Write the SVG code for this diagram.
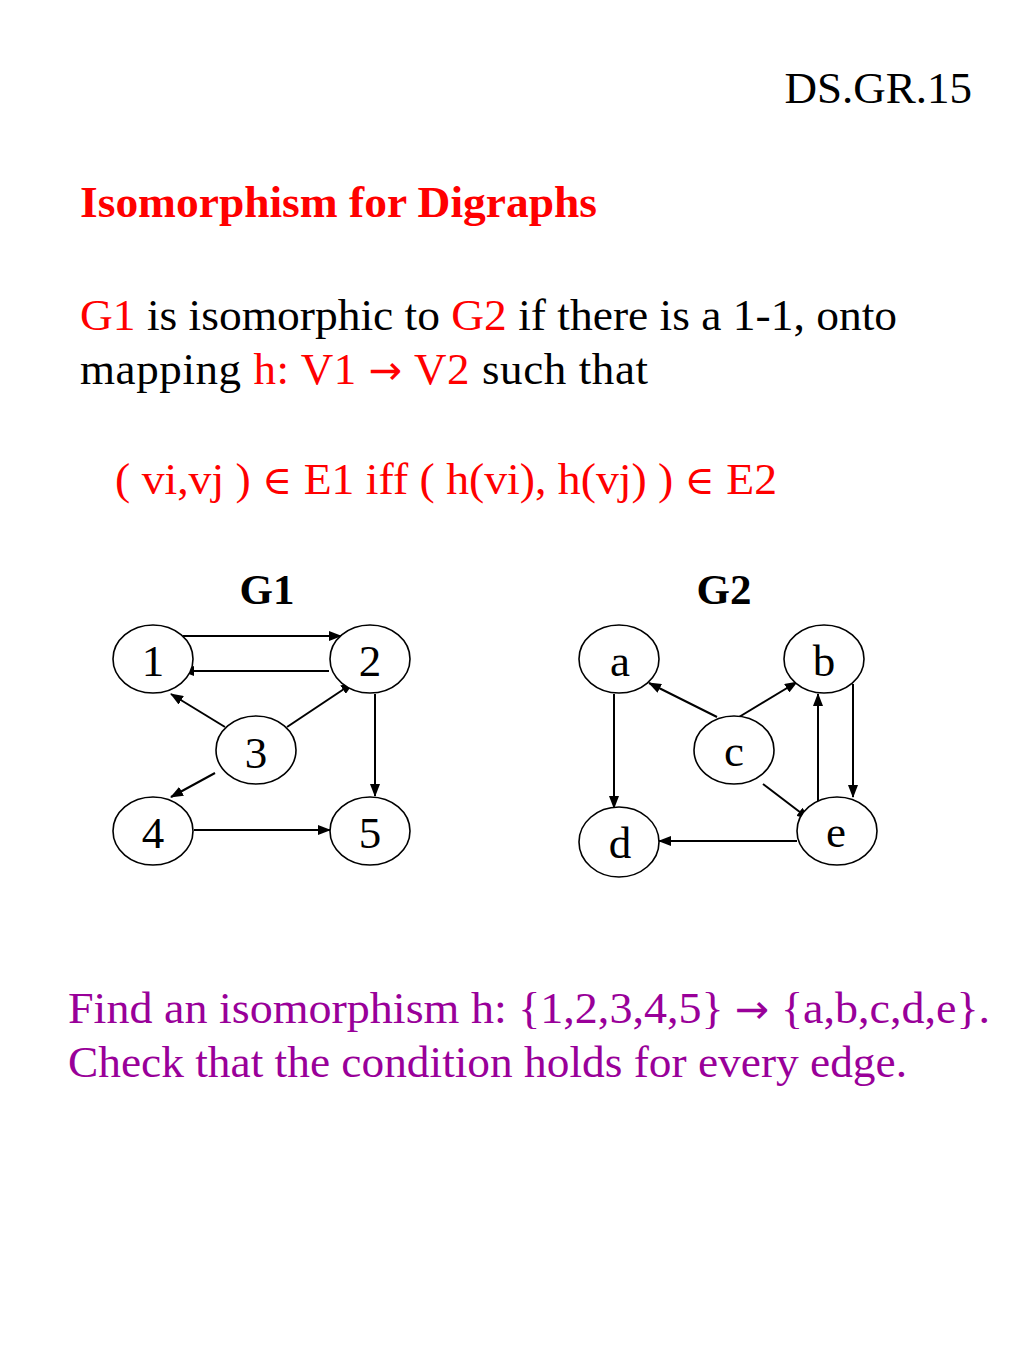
<svg xmlns="http://www.w3.org/2000/svg" width="1024" height="1365" viewBox="0 0 1024 1365">
<style>
text { font-family: "Liberation Serif", "Times New Roman", serif; font-size: 45px; fill: #000; }
.red { fill: #ff0000; }
.purple { fill: #990099; }
.bold { font-weight: bold; }
.sym { font-family: "DejaVu Serif", "DejaVu Sans", serif; font-size: 40px; }
.arrowch { font-family: "DejaVu Sans", sans-serif; font-size: 40px; }
.node ellipse { fill: #fff; stroke: #000; stroke-width: 1.6; }
.node text { text-anchor: middle; }
.edge { stroke: #000; stroke-width: 2; fill: none; marker-end: url(#arr); }
</style>
<defs>
<marker id="arr" markerUnits="userSpaceOnUse" markerWidth="13" markerHeight="10" refX="12" refY="5" orient="auto" viewBox="0 0 13 10">
<path d="M0,0 L13,5 L0,10 z" fill="#000"/>
</marker>
</defs>
<rect width="1024" height="1365" fill="#fff"/>

<text x="972" y="103" text-anchor="end">DS.GR.15</text>
<text x="80" y="217" class="red bold" textLength="517" lengthAdjust="spacingAndGlyphs">Isomorphism for Digraphs</text>
<text x="80" y="330" textLength="817" lengthAdjust="spacingAndGlyphs"><tspan class="red">G1</tspan> is isomorphic to <tspan class="red">G2</tspan> if there is a 1-1, onto</text>
<text x="80" y="384" textLength="568" lengthAdjust="spacing">mapping <tspan class="red">h: V1 </tspan><tspan class="red arrowch">→</tspan><tspan class="red"> V2</tspan> such that</text>
<text x="115" y="494" class="red" textLength="662" lengthAdjust="spacingAndGlyphs">( vi,vj ) <tspan class="sym">∈</tspan> E1 iff ( h(vi), h(vj) ) <tspan class="sym">∈</tspan> E2</text>

<text x="267" y="604" class="bold" text-anchor="middle" style="font-size:43px">G1</text>
<text x="724" y="604" class="bold" text-anchor="middle" style="font-size:43px">G2</text>

<g id="connectors">
<line class="edge" x1="183" y1="636" x2="341" y2="636"/>
<line class="edge" x1="329" y1="671" x2="182" y2="671"/>
<line class="edge" x1="225" y1="727" x2="171" y2="694"/>
<line class="edge" x1="287" y1="727" x2="353" y2="683"/>
<line class="edge" x1="215" y1="773" x2="171" y2="797"/>
<line class="edge" x1="375" y1="694" x2="375" y2="796"/>
<line class="edge" x1="194" y1="830" x2="330" y2="830"/>

<line class="edge" x1="717" y1="717" x2="649" y2="683"/>
<line class="edge" x1="739" y1="717" x2="797" y2="682"/>
<line class="edge" x1="614" y1="694" x2="614" y2="808"/>
<line class="edge" x1="853" y1="684" x2="853" y2="797"/>
<line class="edge" x1="818" y1="808" x2="818" y2="694"/>
<line class="edge" x1="763" y1="784" x2="809" y2="819"/>
<line class="edge" x1="797" y1="841" x2="659" y2="841"/>
</g>

<g id="n1" class="node"><ellipse cx="153" cy="659" rx="40" ry="34"/><text x="153" y="676">1</text></g>
<g id="n2" class="node"><ellipse cx="370" cy="659" rx="40" ry="34"/><text x="370" y="676">2</text></g>
<g id="n3" class="node"><ellipse cx="256" cy="750" rx="40" ry="34"/><text x="256" y="768">3</text></g>
<g id="n4" class="node"><ellipse cx="153" cy="831" rx="40" ry="34"/><text x="153" y="848">4</text></g>
<g id="n5" class="node"><ellipse cx="370" cy="831" rx="40" ry="34"/><text x="370" y="848">5</text></g>

<g id="na" class="node"><ellipse cx="619" cy="659" rx="40" ry="34"/><text x="620" y="676">a</text></g>
<g id="nb" class="node"><ellipse cx="824" cy="659" rx="40" ry="34"/><text x="824" y="676">b</text></g>
<g id="nc" class="node"><ellipse cx="734" cy="750" rx="40" ry="34"/><text x="734" y="766">c</text></g>
<g id="nd" class="node"><ellipse cx="619" cy="842" rx="40" ry="35"/><text x="620" y="858">d</text></g>
<g id="ne" class="node"><ellipse cx="837" cy="831" rx="40" ry="34"/><text x="836" y="847">e</text></g>

<text x="68" y="1023" class="purple" textLength="922" lengthAdjust="spacingAndGlyphs">Find an isomorphism h: {1,2,3,4,5} <tspan class="arrowch">→</tspan> {a,b,c,d,e}.</text>
<text x="68" y="1077" class="purple" textLength="839" lengthAdjust="spacingAndGlyphs">Check that the condition holds for every edge.</text>
</svg>
